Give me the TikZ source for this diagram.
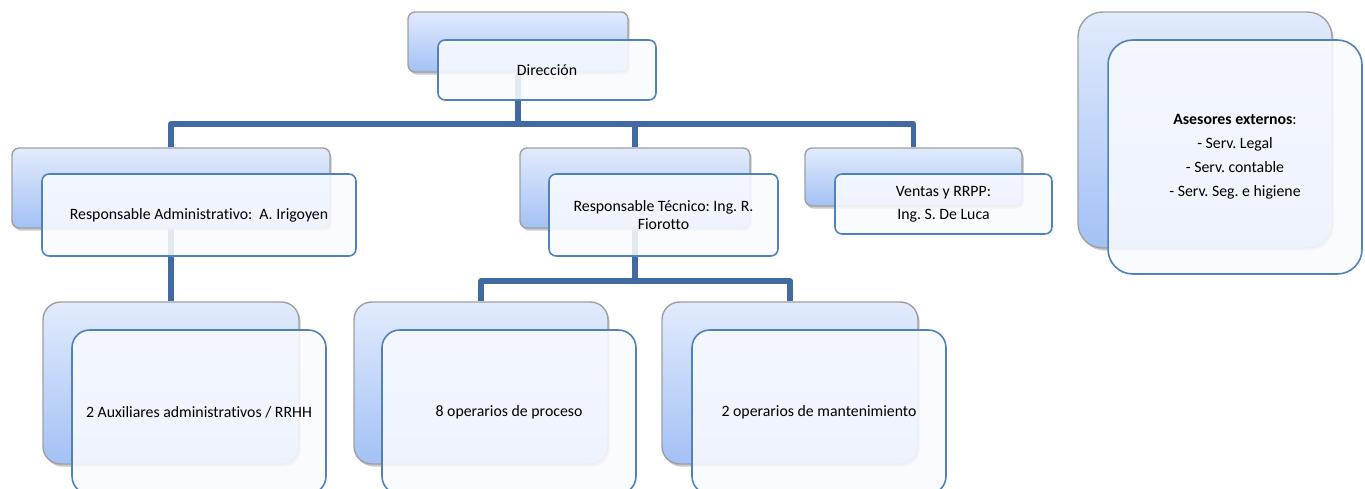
\documentclass[tikz,border=0pt]{standalone}
\usepackage{fontspec}
\setmainfont{Carlito}[Ligatures=NoCommon]
\usetikzlibrary{shadows,backgrounds}

\definecolor{linkblue}{RGB}{65,106,160}
\definecolor{frontline}{RGB}{79,129,189}
\definecolor{backtop}{RGB}{226,235,252}
\definecolor{backbot}{RGB}{163,193,245}
\definecolor{frontfill}{RGB}{248,250,254}

\begin{document}
\frenchspacing
\begin{tikzpicture}[x=0.02cm,y=-0.02cm,
  backbox/.style={rectangle, rounded corners=#1, draw=gray!75, line width=0.8pt,
    top color=backtop, bottom color=backbot,
    drop shadow={shadow xshift=1pt, shadow yshift=-1.5pt, fill=gray!70, opacity=.6}},
  backbox/.default=4pt,
  frontbox/.style={rectangle, rounded corners=#1, draw=frontline, line width=0.9pt,
    fill=frontfill, fill opacity=.88, text opacity=1, align=center,
    font=\fontsize{9}{10.8}\selectfont},
  frontbox/.default=4pt,
  link/.style={draw=linkblue, line width=2.9pt, line join=round}]

\useasboundingbox (0,0) rectangle (1365,489);

% ---------- Dirección ----------
\node[backbox, minimum width=44mm, minimum height=12mm] (dirB) at (518,42) {};
\node[frontbox, minimum width=43.6mm, minimum height=12mm] (dir) at (547,70) {Dirección};

% ---------- Responsables ----------
\node[backbox, minimum width=63.6mm, minimum height=16mm] (admB) at (171,188) {};
\node[frontbox, minimum width=62.8mm, minimum height=16.4mm] (adm) at (199,215)
  {Responsable Administrativo:\ \ A. Irigoyen};

\node[backbox, minimum width=46mm, minimum height=16mm] (tecB) at (635,188) {};
\node[frontbox, minimum width=45.8mm, minimum height=16.4mm] (tec) at (663.5,215)
  {Responsable Técnico: Ing. R.\\[-0.6pt]Fiorotto};

\node[backbox, minimum width=43.4mm, minimum height=11.6mm] (venB) at (913.5,177) {};
\node[frontbox, minimum width=43.4mm, minimum height=12mm] (ven) at (943.5,204)
  {Ventas y RRPP:\\[2.2pt]Ing. S. De Luca};

% ---------- Asesores ----------
\node[backbox=14pt, minimum width=50.8mm, minimum height=47.2mm] (aseB) at (1205,130) {};
\node[frontbox=14pt, minimum width=50.8mm, minimum height=46.8mm] (ase) at (1235,157)
  {\textbf{Asesores externos}:\\[2.8pt]- Serv. Legal\\[2.8pt]- Serv. contable\\[2.8pt]- Serv. Seg. e higiene};

% ---------- Personal ----------
\node[backbox=10pt, minimum width=51.2mm, minimum height=32.4mm] (auxB) at (171,383) {};
\node[frontbox=10pt, minimum width=50.8mm, minimum height=32.8mm] (aux) at (199,412)
  {2 Auxiliares administrativos / RRHH};

\node[backbox=10pt, minimum width=50.8mm, minimum height=32.4mm] (opB) at (481,383) {};
\node[frontbox=10pt, minimum width=50.8mm, minimum height=32.8mm] (op) at (509,412)
  {8 operarios de proceso};

\node[backbox=10pt, minimum width=51.2mm, minimum height=32.4mm] (manB) at (790,383) {};
\node[frontbox=10pt, minimum width=50.8mm, minimum height=32.8mm] (man) at (819,412)
  {2 operarios de mantenimiento};

% ---------- Conectores ----------
\coordinate (busA) at (0,124);
\coordinate (busB) at (0,281);
\begin{scope}[on background layer]
\draw[link] (dirB.center) -- (dirB.center |- busA);
\draw[link] (admB.north) -- (admB.north |- busA) -- (venB.north |- busA) -- (venB.north);
\draw[link] (tecB.north |- busA) -- (tecB.north);
\draw[link] (admB.center) -- (auxB.north);
\draw[link] (tecB.center) -- (tecB.center |- busB);
\draw[link] (opB.north) -- (opB.north |- busB) -- (manB.north |- busB) -- (manB.north);
\end{scope}

\end{tikzpicture}
\end{document}
